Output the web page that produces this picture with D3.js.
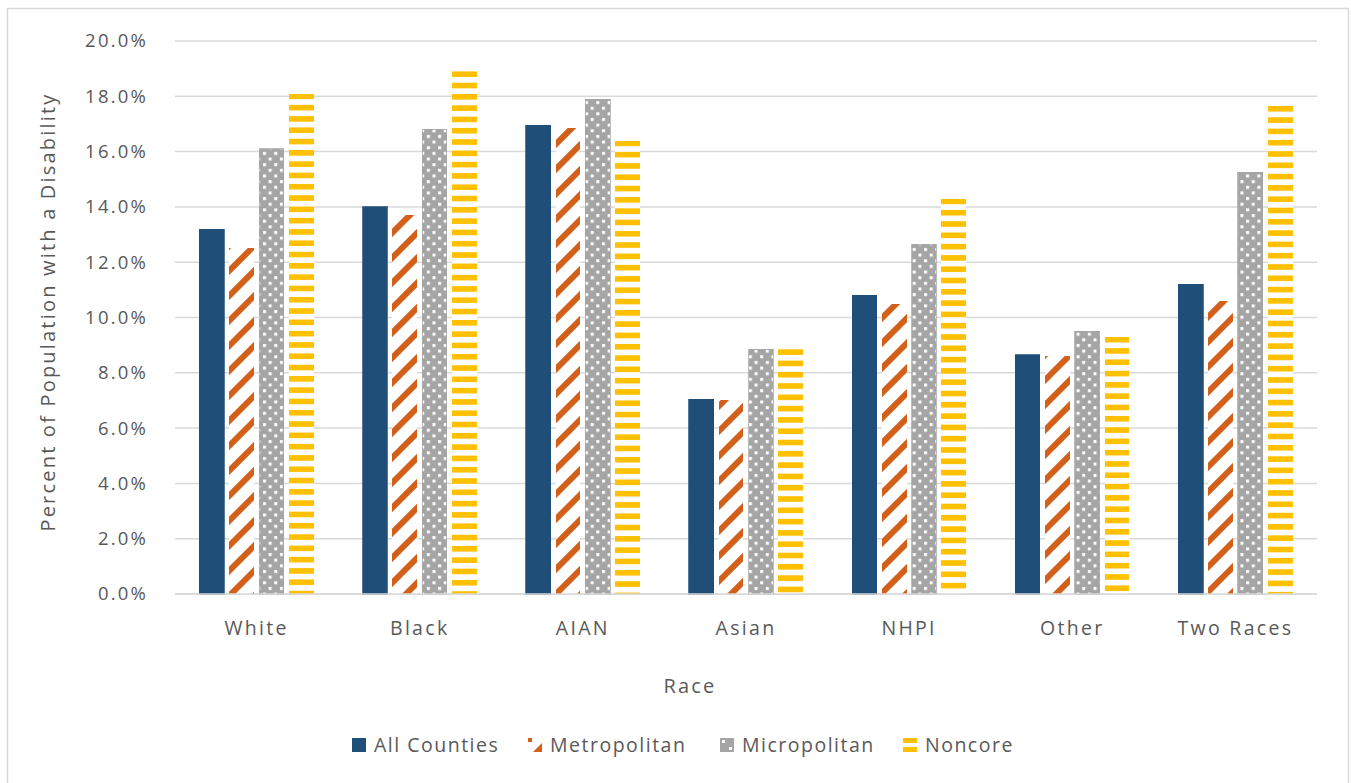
<!DOCTYPE html>
<html><head><meta charset="utf-8">
<script src="https://cdn.jsdelivr.net/npm/d3@7"></script>
<style>body{margin:0;background:#fff;} text{font-family:"Open Sans",sans-serif;fill:#595959;}</style>
</head><body>
<svg id="c" width="1351" height="783"></svg>
<script>
const categories = ["White","Black","AIAN","Asian","NHPI","Other","Two Races"];
const seriesNames = ["All Counties","Metropolitan","Micropolitan","Noncore"];
const allCounties = [13.2,14.0,16.95,7.05,10.8,8.65,11.2];
const metropolitan = [12.5,13.7,16.85,7.0,10.5,8.6,10.6];
const micropolitan = [16.1,16.8,17.9,8.85,12.65,9.5,15.25];
const noncore = [18.1,18.9,16.4,8.85,14.3,9.3,17.65];
const yTicks = [0,2,4,6,8,10,12,14,16,18,20];
const seriesValues = [allCounties, metropolitan, micropolitan, noncore];

const svg = d3.select("#c");
const m = {left:175, right:1317, top:41, bottom:594};

// frame
svg.append("rect").attr("x",7.5).attr("y",8.5).attr("width",1341).attr("height",790)
  .attr("fill","#fff").attr("stroke","#D9D9D9").attr("stroke-width",1.5);

const defs = svg.append("defs");
// Metropolitan: diagonal stripes
const pm = defs.append("pattern").attr("id","pMetro").attr("patternUnits","userSpaceOnUse")
  .attr("width",25).attr("height",25);
pm.append("rect").attr("width",25).attr("height",25).attr("fill","#fff");
[-25,0,25].forEach(o=>{
  pm.append("line").attr("x1",o-2).attr("y1",27).attr("x2",o+27).attr("y2",-2)
    .attr("stroke","#D3601A").attr("stroke-width",6);
});
// Micropolitan: gray with white dots
const pi = defs.append("pattern").attr("id","pMicro").attr("patternUnits","userSpaceOnUse")
  .attr("width",11.3).attr("height",11.3).attr("x",262).attr("y",4);
pi.append("rect").attr("width",11.3).attr("height",11.3).attr("fill","#A5A5A5");
pi.append("rect").attr("x",1).attr("y",1).attr("width",3).attr("height",3).attr("fill","#fff");
pi.append("rect").attr("x",6.65).attr("y",6.65).attr("width",3).attr("height",3).attr("fill","#fff");

const y = d3.scaleLinear().domain([0,20]).range([m.bottom,m.top]);
const x0 = d3.scaleBand().domain(categories).range([m.left,m.right]).paddingInner(0.3).paddingOuter(0.15);
const x1 = d3.scaleBand().domain(seriesNames).range([0,x0.bandwidth()]).paddingInner(0.17);

// Noncore: horizontal dashes, one pattern per bar aligned to its top
categories.forEach((c,i)=>{
  const pn = defs.append("pattern").attr("id","pNon"+i).attr("patternUnits","userSpaceOnUse")
    .attr("width",40).attr("height",11.3).attr("x",0).attr("y",y(noncore[i]));
  pn.append("rect").attr("width",40).attr("height",11.3).attr("fill","#fff");
  pn.append("rect").attr("y",0).attr("width",40).attr("height",5.6).attr("fill","#FFC000");
});

const fills = ["#1F4E79","url(#pMetro)","url(#pMicro)",null];
const strokes = ["#1F4E79","none","#A5A5A5","none"];

// gridlines
svg.append("g").selectAll("line").data(yTicks).join("line")
  .attr("x1",m.left).attr("x2",m.right).attr("y1",d=>y(d)).attr("y2",d=>y(d))
  .attr("stroke","#D9D9D9").attr("stroke-width",1.5);

// y axis labels
const yAxis = d3.axisLeft(y).tickValues(yTicks).tickFormat(d=>d.toFixed(1)+"%").tickSize(0).tickPadding(27);
const gy = svg.append("g").attr("transform",`translate(${m.left},0)`).call(yAxis);
gy.select(".domain").remove();
gy.selectAll("text").style("font-size","18.5px").style("letter-spacing","2.2px")
  .attr("fill","#595959").style("font-family","Open Sans");

// bars
const g = svg.append("g");
categories.forEach((c,i)=>{
  seriesNames.forEach((s,j)=>{
    const v = seriesValues[j][i];
    g.append("rect").attr("x",x0(c)+x1(s)).attr("width",x1.bandwidth())
      .attr("y",y(v)).attr("height",y(0)-y(v))
      .attr("fill",j===3 ? `url(#pNon${i})` : fills[j]).attr("stroke",strokes[j]).attr("stroke-width",0.75)
      .attr("shape-rendering","crispEdges");
  });
});
// axis line
svg.append("line").attr("x1",m.left).attr("x2",m.right).attr("y1",y(0)).attr("y2",y(0))
  .attr("stroke","#D9D9D9").attr("stroke-width",1.5);

// x axis labels
const xAxis = d3.axisBottom(x0).tickSize(0).tickPadding(27);
const gx = svg.append("g").attr("transform",`translate(0,${m.bottom})`).call(xAxis);
gx.select(".domain").remove();
gx.selectAll("text").style("font-size","19.5px").style("letter-spacing","2.3px")
  .attr("fill","#595959").style("font-family","Open Sans");

// axis titles
svg.append("text").attr("x",690).attr("y",693).attr("text-anchor","middle")
  .style("font-size","20px").style("letter-spacing","2.2px").text("Race");
svg.append("text").attr("transform",`translate(55,312) rotate(-90)`)
  .attr("text-anchor","middle").style("font-size","20px").style("letter-spacing","2.2px")
  .text("Percent of Population with a Disability");

// legend
const legX = [352,528,720,903];
const lg = svg.append("g");
seriesNames.forEach((s,j)=>{
  const gg = lg.append("g").attr("transform",`translate(${legX[j]},738)`);
  if(j===0) gg.append("rect").attr("width",14).attr("height",14).attr("fill","#1F4E79");
  if(j===1){
    gg.append("rect").attr("x",0).attr("y",0).attr("width",4).attr("height",4).attr("fill","#D3601A");
    gg.append("path").attr("d","M5,14 L14,5 L14,14 Z").attr("fill","#D3601A");
  }
  if(j===2){
    gg.append("rect").attr("width",14).attr("height",14).attr("fill","#A5A5A5");
    gg.append("rect").attr("x",2).attr("y",2).attr("width",3).attr("height",3).attr("fill","#fff");
    gg.append("rect").attr("x",9).attr("y",9).attr("width",3).attr("height",3).attr("fill","#fff");
  }
  if(j===3){
    gg.append("rect").attr("y",0).attr("width",14).attr("height",5).attr("fill","#FFC000");
    gg.append("rect").attr("y",9).attr("width",14).attr("height",5).attr("fill","#FFC000");
  }
  gg.append("text").attr("x",22).attr("y",14).style("font-size","19.5px").style("letter-spacing","1.5px").text(s);
});
</script>
</body></html>
